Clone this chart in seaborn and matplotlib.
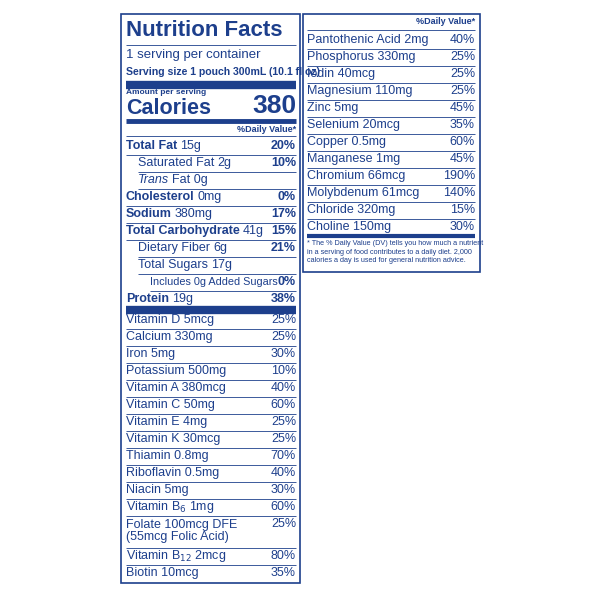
import matplotlib
matplotlib.use("Agg")
import matplotlib.pyplot as plt
import seaborn as sns

sns.set_theme(style="white")
plt.rcParams['font.family'] = ['Liberation Sans', 'DejaVu Sans']

BLUE = "#1d3f8c"

calories = "380"
main_labels = [("Total Fat", "15g", True, 0), ("Saturated Fat", "2g", False, 1),
               ("Trans", "Fat 0g", False, 1), ("Cholesterol", "0mg", True, 0),
               ("Sodium", "380mg", True, 0), ("Total Carbohydrate", "41g", True, 0),
               ("Dietary Fiber", "6g", False, 1), ("Total Sugars", "17g", False, 1),
               ("Includes 0g Added Sugars", "", False, 2), ("Protein", "19g", True, 0)]
main_dv = ["20%", "10%", "", "0%", "17%", "15%", "21%", "", "0%", "38%"]

vit_left = ["Vitamin D 5mcg", "Calcium 330mg", "Iron 5mg", "Potassium 500mg",
            "Vitamin A 380mcg", "Vitamin C 50mg", "Vitamin E 4mg", "Vitamin K 30mcg",
            "Thiamin 0.8mg", "Riboflavin 0.5mg", "Niacin 5mg", "Vitamin B$_6$ 1mg",
            "Folate 100mcg DFE\n(55mcg Folic Acid)", "Vitamin B$_{12}$ 2mcg", "Biotin 10mcg"]
vit_left_dv = ["25%", "25%", "30%", "10%", "40%", "60%", "25%", "25%", "70%", "40%",
               "30%", "60%", "25%", "80%", "35%"]

vit_right = ["Pantothenic Acid 2mg", "Phosphorus 330mg", "Iodin 40mcg", "Magnesium 110mg",
             "Zinc 5mg", "Selenium 20mcg", "Copper 0.5mg", "Manganese 1mg",
             "Chromium 66mcg", "Molybdenum 61mcg", "Chloride 320mg", "Choline 150mg"]
vit_right_dv = ["40%", "25%", "25%", "25%", "45%", "35%", "60%", "45%", "190%", "140%",
                "15%", "30%"]

fig = plt.figure(figsize=(6, 6), dpi=100)
ax = fig.add_axes([0, 0, 1, 1])
ax.set_xlim(0, 600); ax.set_ylim(600, 0); ax.axis("off")
renderer = fig.canvas.get_renderer()

def hl(y, x0, x1, lw=0.6):
    ax.plot([x0, x1], [y, y], color=BLUE, lw=lw, solid_capstyle="butt")

def tx(x, y, s, size=9, bold=False, ha="left", **kw):
    return ax.text(x, y, s, color=BLUE, fontsize=size, fontweight="bold" if bold else "normal",
                   ha=ha, va="center", **kw)

def right_edge(t):
    return t.get_window_extent(renderer).x1

FS = 9
# Left box
L0, L1 = 121, 300
ax.add_patch(plt.Rectangle((L0, 14), L1 - L0, 569, fill=False, ec=BLUE, lw=1.2))
x0, x1 = 126, 296
tx(x0, 31, "Nutrition Facts", 16, True)
hl(45, x0, x1)
tx(x0, 55, "1 serving per container", 9.5)
tx(x0, 72, "Serving size 1 pouch 300mL (10.1 fl oz)", 7.6, True)
hl(85, x0, x1, 6)
tx(x0, 93, "Amount per serving", 6, True)
tx(x0, 109, "Calories", 15.5, True)
tx(x1, 106, calories, 19, True, ha="right")
hl(121, x0, x1, 3.5)
tx(x1, 129, "%Daily Value*", 6.5, True, ha="right")
hl(136, x0, x1)
y = 146
for (lab, rest, bold, ind), dv in zip(main_labels, main_dv):
    xs = x0 + [0, 12, 24][ind]
    size = 7.8 if ind == 2 else FS
    if lab == "Trans":
        t = ax.text(xs, y, "Trans", color=BLUE, fontsize=FS, style="italic", va="center")
    else:
        t = tx(xs, y, lab, size, bold)
    if rest:
        tx(right_edge(t) + 3, y, rest, size)
    if dv:
        tx(x1, y, dv, FS, True, ha="right")
    y += 17
    if lab != "Protein":
        hl(y - 8.5, xs if ind else x0, x1)
hl(310, x0, x1, 6)
y = 320
for lab, dv in zip(vit_left, vit_left_dv):
    two = "\n" in lab
    tx(x0, y + (7 if two else 0), lab, FS, linespacing=1.0)
    tx(x1, y, dv, FS, ha="right")
    y += 32 if two else 17
    if lab != vit_left[-1]:
        hl(y - 8.5, x0, x1)

# Right box
R0, R1 = 303, 480
ax.add_patch(plt.Rectangle((R0, 14), R1 - R0, 258, fill=False, ec=BLUE, lw=1.2))
r0, r1 = 307, 475
tx(r1, 22, "%Daily Value*", 6.5, True, ha="right")
hl(30, r0, r1)
y = 40
for lab, dv in zip(vit_right, vit_right_dv):
    tx(r0, y, lab, FS)
    tx(r1, y, dv, FS, ha="right")
    y += 17
    hl(y - 8.5, r0, r1, 0.6 if lab != vit_right[-1] else 3)
tx(r0, 252, "* The % Daily Value (DV) tells you how much a nutrient\n"
   "in a serving of food contributes to a daily diet. 2,000\n"
   "calories a day is used for general nutrition advice.", 5.2, linespacing=1.3)

fig.savefig("out.png", dpi=100, facecolor="white")
